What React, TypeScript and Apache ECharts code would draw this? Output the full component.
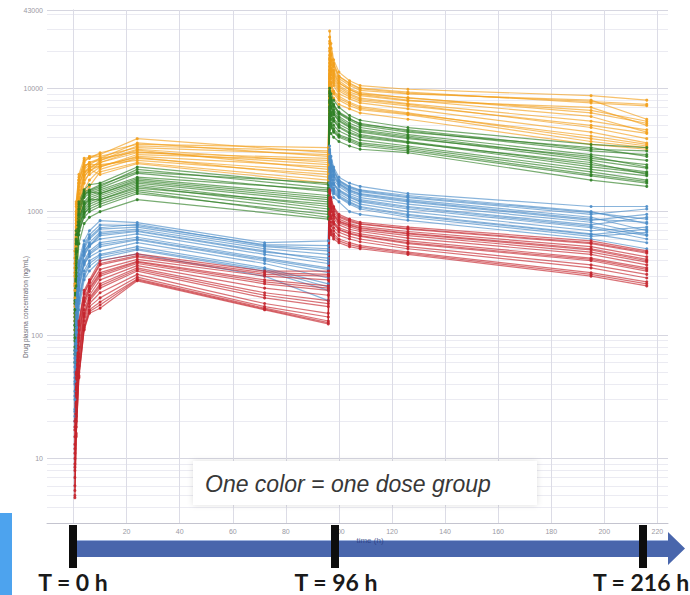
import React, { useEffect, useRef } from 'react';
import * as echarts from 'echarts';

// Sampling times (h)
const TIMES_OG = [0.5, 1, 2, 4, 6, 10, 24, 96, 96.5, 97, 98, 100, 104, 108, 126, 195, 216];
const TIMES_BR = [0.5, 1, 2, 4, 6, 10, 24, 72, 96, 96.5, 97, 98, 100, 104, 108, 126, 195, 216];

// Concentrations (ng/mL), one row per subject
const orangeGroup = [
  [420, 1150, 1900, 2500, 2800, 2900, 3900, 3000, 29000, 23000, 17000, 13500, 11500, 10500, 9800, 8700, 8000],
  [300, 900, 1700, 2600, 2700, 3000, 3500, 3300, 26000, 21000, 16000, 12500, 11000, 10000, 9300, 7600, 7200],
  [250, 800, 1500, 2300, 2500, 2700, 3600, 2800, 23000, 18500, 15000, 12000, 10500, 9600, 9000, 8000, 5600],
  [480, 1200, 2000, 2700, 2750, 2800, 3300, 2900, 20000, 17000, 14000, 11500, 10000, 9200, 8300, 6600, 5400],
  [180, 600, 1200, 1900, 2200, 2600, 3200, 2500, 18500, 15500, 13000, 11000, 9700, 9000, 8400, 6300, 5200],
  [150, 500, 1000, 1700, 2100, 2500, 3000, 2700, 17000, 14500, 12500, 10500, 9300, 8700, 7900, 7000, 5000],
  [350, 1000, 1800, 2400, 2400, 2700, 3050, 2400, 16000, 13500, 12000, 10200, 9000, 8300, 7500, 5400, 4600],
  [200, 700, 1300, 2000, 2300, 2300, 2800, 2300, 15000, 12800, 11000, 9500, 8500, 7900, 7200, 5000, 4300],
  [130, 450, 900, 1500, 1800, 2200, 2700, 2100, 14000, 12000, 10500, 9000, 8200, 7600, 6800, 4400, 3600],
  [260, 850, 1600, 2200, 2400, 2400, 2600, 2000, 13000, 11200, 9500, 8600, 7700, 7100, 6300, 3900, 3400],
  [110, 400, 850, 1400, 1600, 2100, 2500, 1800, 12000, 10200, 9000, 8000, 7200, 6700, 6100, 3700, 3300],
  [320, 950, 1700, 2100, 2200, 2000, 2450, 1700, 11000, 9400, 8300, 7400, 6800, 6300, 5600, 3500, 3200],
  [380, 1100, 1800, 2300, 2500, 2600, 3400, 3100, 24000, 19000, 15500, 12500, 10800, 9900, 9100, 7800, 7400],
  [140, 520, 1100, 1800, 2000, 2300, 2900, 2600, 21000, 16500, 13500, 11000, 9800, 8900, 8000, 5900, 4400],
  [230, 750, 1400, 2100, 2300, 2500, 3150, 2200, 17500, 14000, 11500, 9800, 8800, 8100, 7400, 4800, 3900],
  [170, 620, 1250, 1950, 2150, 2350, 2750, 1900, 12500, 10800, 9300, 8300, 7500, 6900, 6200, 4100, 3500],
];

const greenGroup = [
  [190, 700, 1200, 1500, 1650, 1700, 2300, 1650, 10000, 9000, 8000, 7000, 6000, 5500, 4800, 3500, 3300],
  [160, 600, 1100, 1450, 1500, 1650, 2100, 1700, 9500, 8400, 7400, 6400, 5700, 5100, 4600, 3200, 3100],
  [140, 550, 1000, 1350, 1450, 1550, 2050, 1450, 9000, 8000, 7100, 6200, 5500, 5000, 4400, 3300, 2800],
  [120, 480, 950, 1300, 1400, 1500, 1900, 1500, 8600, 7600, 6700, 5900, 5200, 4800, 4200, 2900, 2600],
  [100, 420, 850, 1200, 1350, 1450, 1850, 1350, 8000, 7200, 6400, 5700, 5000, 4600, 4100, 2700, 2400],
  [180, 650, 1150, 1400, 1450, 1400, 1750, 1250, 7600, 6900, 6100, 5400, 4800, 4400, 3900, 2800, 2300],
  [90, 380, 800, 1100, 1250, 1350, 1700, 1200, 7100, 6400, 5700, 5100, 4600, 4200, 3700, 2400, 2100],
  [80, 350, 750, 1050, 1200, 1300, 1650, 1100, 6600, 6000, 5400, 4800, 4300, 4000, 3600, 2500, 2000],
  [130, 500, 900, 1150, 1250, 1250, 1600, 1050, 6200, 5600, 5000, 4500, 4100, 3800, 3400, 2200, 1950],
  [70, 300, 650, 950, 1100, 1200, 1500, 1000, 5800, 5200, 4700, 4200, 3900, 3600, 3300, 2100, 1800],
  [110, 450, 700, 900, 1000, 1100, 1400, 950, 5200, 4800, 4400, 4000, 3700, 3400, 3100, 1950, 1700],
  [60, 250, 550, 800, 900, 1000, 1250, 870, 4600, 4300, 4000, 3700, 3400, 3200, 3000, 1800, 1600],
  [150, 580, 1050, 1380, 1480, 1600, 2200, 1550, 9200, 8200, 7300, 6300, 5600, 5200, 4500, 3100, 2900],
  [95, 400, 820, 1150, 1300, 1400, 1800, 1300, 7800, 7000, 6200, 5500, 4900, 4500, 4000, 2600, 2250],
  [75, 320, 700, 1000, 1150, 1250, 1550, 1150, 6900, 6200, 5500, 4900, 4400, 4100, 3650, 2300, 2050],
  [120, 470, 780, 980, 1050, 1150, 1450, 900, 5500, 5000, 4500, 4100, 3800, 3500, 3200, 2000, 1750],
];

const blueGroup = [
  [75, 190, 400, 580, 700, 845, 815, 560, 580, 3400, 2800, 2300, 1900, 1700, 1600, 1400, 1100, 1100],
  [60, 170, 370, 540, 650, 780, 770, 540, 530, 3200, 2600, 2200, 1800, 1600, 1500, 1350, 1000, 800],
  [55, 150, 340, 500, 600, 720, 750, 520, 480, 3000, 2500, 2100, 1750, 1550, 1450, 1300, 950, 1050],
  [45, 140, 310, 470, 560, 680, 720, 500, 450, 2800, 2400, 2000, 1700, 1500, 1400, 1250, 900, 700],
  [40, 120, 280, 440, 520, 640, 690, 470, 420, 2600, 2200, 1900, 1650, 1450, 1350, 1200, 850, 950],
  [70, 180, 360, 480, 540, 600, 660, 450, 380, 2500, 2100, 1800, 1600, 1400, 1300, 1150, 820, 650],
  [35, 110, 250, 400, 480, 560, 620, 420, 350, 2300, 2000, 1700, 1500, 1350, 1250, 1100, 780, 900],
  [30, 100, 230, 370, 450, 520, 590, 400, 320, 2200, 1900, 1650, 1450, 1300, 1200, 1050, 740, 600],
  [50, 130, 280, 380, 430, 480, 560, 380, 290, 2100, 1800, 1550, 1400, 1250, 1150, 1000, 700, 750],
  [25, 90, 200, 330, 400, 450, 520, 350, 260, 1950, 1700, 1500, 1350, 1200, 1100, 950, 660, 560],
  [22, 80, 180, 300, 360, 420, 490, 330, 230, 1850, 1600, 1400, 1300, 1150, 1050, 900, 630, 680],
  [20, 75, 160, 280, 330, 400, 455, 300, 190, 1700, 1500, 1300, 1200, 1000, 950, 850, 600, 500],
  [65, 175, 380, 520, 620, 740, 790, 530, 500, 3100, 2550, 2150, 1780, 1580, 1480, 1320, 980, 870],
  [42, 125, 290, 450, 530, 660, 700, 480, 400, 2700, 2300, 1950, 1680, 1480, 1380, 1220, 870, 820],
  [32, 105, 240, 390, 460, 540, 600, 410, 340, 2250, 1950, 1680, 1480, 1320, 1220, 1080, 760, 640],
  [24, 85, 190, 310, 380, 440, 500, 340, 245, 1900, 1650, 1450, 1320, 1180, 1080, 930, 650, 720],
];

const redGroup = [
  [20, 50, 130, 230, 280, 400, 455, 330, 330, 1500, 1300, 1100, 950, 870, 820, 750, 580, 480],
  [17, 45, 120, 215, 265, 370, 430, 310, 300, 1400, 1200, 1050, 900, 830, 790, 720, 550, 460],
  [15, 40, 110, 200, 250, 340, 410, 300, 280, 1300, 1150, 1000, 870, 800, 760, 690, 520, 430],
  [13, 36, 100, 190, 240, 320, 395, 280, 250, 1250, 1100, 950, 840, 780, 740, 670, 500, 410],
  [11, 32, 90, 175, 225, 300, 380, 260, 230, 1150, 1050, 920, 810, 750, 710, 640, 470, 390],
  [10, 28, 80, 160, 210, 280, 365, 240, 210, 1100, 1000, 880, 780, 720, 690, 610, 450, 370],
  [9, 25, 70, 150, 200, 260, 350, 220, 190, 1000, 930, 830, 740, 690, 660, 580, 420, 350],
  [8, 22, 62, 140, 190, 240, 330, 200, 170, 950, 880, 790, 710, 660, 630, 550, 400, 330],
  [7, 20, 56, 130, 180, 220, 310, 180, 150, 880, 820, 740, 680, 630, 600, 520, 370, 310],
  [6, 18, 50, 120, 170, 200, 295, 170, 140, 820, 770, 700, 640, 600, 570, 500, 350, 290],
  [5.5, 16, 47, 115, 160, 185, 285, 165, 130, 760, 710, 660, 600, 560, 530, 470, 320, 270],
  [4.8, 15, 45, 110, 150, 165, 275, 160, 123, 700, 650, 600, 560, 520, 500, 450, 300, 250],
  [18, 48, 125, 220, 270, 380, 440, 320, 310, 1450, 1250, 1080, 920, 850, 800, 730, 560, 470],
  [12, 34, 95, 185, 235, 310, 390, 270, 240, 1200, 1080, 940, 830, 770, 730, 660, 490, 400],
  [8.5, 24, 66, 145, 195, 250, 340, 210, 180, 980, 900, 810, 720, 670, 640, 560, 410, 340],
  [5, 15.5, 46, 112, 155, 175, 280, 162, 126, 730, 680, 630, 580, 540, 515, 460, 310, 260],
];

const xGridTimes = [0, 20, 40, 60, 80, 100, 120, 140, 160, 180, 200, 220];
const yMinorMultipliers = [2, 3, 4, 5, 6, 7, 8, 9];
const yDecadeBases = [1, 10, 100, 1000, 10000];
const timelineLabels = ['T = 0 h', 'T = 96 h', 'T = 216 h'];
const noteText = 'One color = one dose group';
const yAxisTitle = 'Drug plasma concentration (ng/mL)';
const xAxisTitle = 'time (h)';

const Y_MIN = 3;
const Y_MAX = 43000;

const groups = [
  { color: '#F2A01C', times: TIMES_OG, subjects: orangeGroup },
  { color: '#2F7F25', times: TIMES_OG, subjects: greenGroup },
  { color: '#4A8CC8', times: TIMES_BR, subjects: blueGroup },
  { color: '#C4252D', times: TIMES_BR, subjects: redGroup },
];

export default function App() {
  const ref = useRef<HTMLDivElement>(null);

  useEffect(() => {
    if (!ref.current) return;
    const chart = echarts.init(ref.current, undefined, { renderer: 'svg' });

    const minorY: number[] = [];
    yDecadeBases.forEach((b) => {
      yMinorMultipliers.forEach((m) => {
        const v = m * b;
        if (v > Y_MIN && v < Y_MAX) minorY.push(v);
      });
    });

    const dataSeries: any[] = [];
    groups.forEach((g) => {
      g.subjects.forEach((row) => {
        dataSeries.push({
          type: 'line',
          data: g.times.map((t, i) => [t, row[i]]),
          symbol: 'circle',
          symbolSize: 3,
          showSymbol: true,
          silent: true,
          z: 3,
          lineStyle: { width: 1.2, color: g.color, opacity: 0.65 },
          itemStyle: { color: g.color, opacity: 0.9 },
        });
      });
    });

    const gridSeries = {
      type: 'line',
      data: [[-10, Y_MIN]],
      showSymbol: false,
      silent: true,
      z: 1,
      lineStyle: { width: 0, opacity: 0 },
      markLine: {
        silent: true,
        z: 1,
        symbol: ['none', 'none'],
        label: { show: false },
        animation: false,
        data: [
          ...minorY.map((v) => ({ yAxis: v, lineStyle: { color: '#ebebf2', width: 1, type: 'solid' } })),
          ...xGridTimes.map((t) => ({ xAxis: t, lineStyle: { color: '#dcdce6', width: 1, type: 'solid' } })),
        ],
      },
    };

    const barColor = '#0d0d0d';
    const labelFont = 'bold 23px Lato, "Open Sans", sans-serif';

    chart.setOption({
      animation: false,
      backgroundColor: '#ffffff',
      grid: { left: 47, right: 22, top: 10, bottom: 72 },
      xAxis: {
        type: 'value',
        min: -10,
        max: 224,
        interval: 10,
        axisLine: { show: true, lineStyle: { color: '#c4c4cf', width: 1 } },
        axisTick: { show: false },
        splitLine: { show: false },
        axisLabel: {
          fontSize: 7,
          color: '#9a9aa4',
          margin: 5,
          formatter: (v: number) => (v >= 0 && v % 20 === 0 ? String(v) : ''),
        },
      },
      yAxis: {
        type: 'log',
        logBase: 10,
        min: Y_MIN,
        max: Y_MAX,
        axisLine: { show: true, lineStyle: { color: '#c4c4cf', width: 1 } },
        axisTick: { show: false },
        axisLabel: {
          fontSize: 7,
          color: '#9a9aa4',
          margin: 4,
          showMinLabel: false,
          formatter: (v: number) => String(Math.round(v)),
        },
        splitLine: { show: true, lineStyle: { color: '#d6d6e0', width: 1 } },
      },
      series: [gridSeries, ...dataSeries],
      graphic: [
        {
          type: 'text',
          x: 25,
          y: 307,
          rotation: Math.PI / 2,
          z: 5,
          style: {
            text: yAxisTitle,
            fontSize: 6.5,
            fontFamily: 'sans-serif',
            fill: '#6a6a74',
            align: 'center',
            textAlign: 'center',
            verticalAlign: 'middle',
            textVerticalAlign: 'middle',
          },
        },
        { type: 'rect', shape: { x: 0, y: 513, width: 12, height: 82 }, style: { fill: '#4DA3EE' }, z: 10 },
        {
          type: 'rect',
          shape: { x: 193, y: 461, width: 344, height: 44 },
          style: { fill: '#ffffff', shadowBlur: 6, shadowColor: 'rgba(0,0,0,0.12)' },
          z: 10,
        },
        {
          type: 'text',
          x: 205,
          y: 484,
          z: 11,
          style: {
            text: noteText,
            font: 'italic 23px "Liberation Sans", Arial, sans-serif',
            fill: '#383838',
            align: 'left',
            textAlign: 'left',
            verticalAlign: 'middle',
            textVerticalAlign: 'middle',
          },
        },
        {
          type: 'polygon',
          shape: { points: [[76, 540], [668, 540], [668, 532], [685, 548.5], [668, 565], [668, 557], [76, 557]] },
          style: { fill: '#3F5EA8', opacity: 0.95 },
          z: 10,
        },
        { type: 'line', shape: { x1: 76, y1: 540.5, x2: 668, y2: 540.5 }, style: { stroke: '#9fb4de', lineWidth: 1 }, z: 11 },
        {
          type: 'text',
          x: 370,
          y: 540,
          z: 11,
          style: {
            text: xAxisTitle,
            fontSize: 8,
            fontFamily: 'sans-serif',
            fill: '#25377a',
            opacity: 0.75,
            align: 'center',
            textAlign: 'center',
            verticalAlign: 'middle',
            textVerticalAlign: 'middle',
          },
        },
        { type: 'rect', shape: { x: 69, y: 525, width: 8, height: 43 }, style: { fill: barColor }, z: 12 },
        { type: 'rect', shape: { x: 331, y: 525, width: 8, height: 43 }, style: { fill: barColor }, z: 12 },
        { type: 'rect', shape: { x: 639, y: 525, width: 8, height: 43 }, style: { fill: barColor }, z: 12 },
        ...timelineLabels.map((t, i) => ({
          type: 'text',
          x: [73, 336, 641][i],
          y: 582,
          z: 12,
          style: {
            text: t,
            font: labelFont,
            fill: '#1a1a1a',
            align: 'center',
            textAlign: 'center',
            verticalAlign: 'middle',
            textVerticalAlign: 'middle',
          },
        })),
      ],
    });

    return () => chart.dispose();
  }, []);

  return (
    <div
      ref={ref}
      style={{ position: 'fixed', left: 0, top: 0, width: 690, height: 595, background: '#fff' }}
    />
  );
}
